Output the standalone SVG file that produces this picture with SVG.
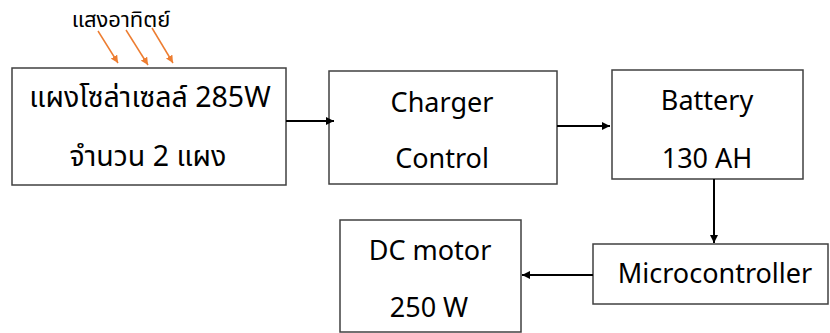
<svg xmlns="http://www.w3.org/2000/svg" width="830" height="333" viewBox="0 0 830 333">
<style>
.box{fill:#fff;stroke:#404040;stroke-width:1.5}
.t{font-family:"Noto Sans Thai","Noto Sans","DejaVu Sans",sans-serif;font-size:27px;fill:#000;text-anchor:middle}
.th{font-size:28.5px}
.s{font-size:22px}
.c{stroke:#000;stroke-width:2;fill:none}
.o{stroke:#ED7D31;stroke-width:1.5;fill:none}
</style>
<defs>
<marker id="a" viewBox="0 0 10 10" refX="10" refY="5" markerWidth="4" markerHeight="4" orient="auto"><path d="M0,0L10,5L0,10z" fill="#000"/></marker>
<marker id="ao" viewBox="0 0 10 10" refX="10" refY="5" markerWidth="5" markerHeight="5" orient="auto"><path d="M0,0L10,5L0,10z" fill="#ED7D31"/></marker>
</defs>
<g id="sun">
<text class="t s" x="121" y="27">แสงอาทิตย์</text>
</g>
<g id="solar">
<rect class="box" x="12" y="68" width="274" height="117"/>
<text class="t th" x="150" y="107">แผงโซล่าเซลล์ 285W</text>
<text class="t th" x="148" y="166">จำนวน 2 แผง</text>
</g>
<g id="charger">
<rect class="box" x="329" y="71" width="228" height="113"/>
<text class="t" x="442" y="112">Charger</text>
<text class="t" x="442" y="168">Control</text>
</g>
<g id="battery">
<rect class="box" x="612" y="70" width="191" height="109"/>
<text class="t" x="707" y="110">Battery</text>
<text class="t" x="707" y="168">130 AH</text>
</g>
<g id="micro">
<rect class="box" x="593" y="244" width="235" height="60"/>
<text class="t" x="715" y="283">Microcontroller</text>
</g>
<g id="motor">
<rect class="box" x="340" y="220" width="181" height="112"/>
<text class="t" x="430" y="260">DC motor</text>
<text class="t" x="429" y="317">250 W</text>
</g>
<g id="connectors">
<line class="c" x1="286" y1="121" x2="334" y2="121" marker-end="url(#a)"/>
<line class="c" x1="557" y1="126" x2="610" y2="126" marker-end="url(#a)"/>
<line class="c" x1="714" y1="179" x2="714" y2="243" marker-end="url(#a)"/>
<line class="c" x1="593" y1="275" x2="522" y2="275" marker-end="url(#a)"/>
<line class="o" x1="98" y1="31" x2="118" y2="63" marker-end="url(#ao)"/>
<line class="o" x1="126" y1="30" x2="148" y2="65" marker-end="url(#ao)"/>
<line class="o" x1="152" y1="28" x2="173" y2="63" marker-end="url(#ao)"/>
</g>
</svg>
